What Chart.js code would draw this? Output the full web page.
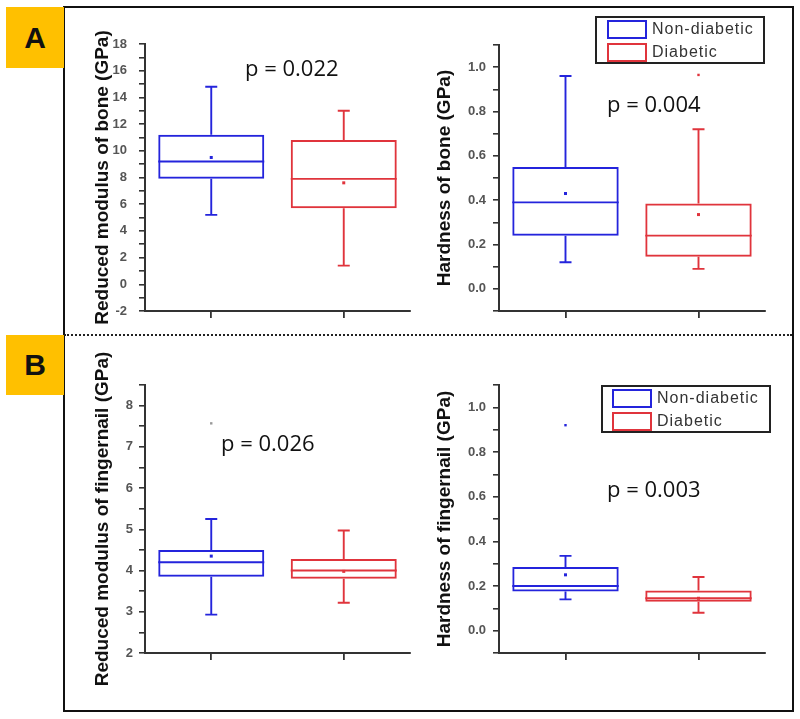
<!DOCTYPE html>
<html>
<head>
<meta charset="utf-8">
<script src="https://cdn.jsdelivr.net/npm/chart.js@4.4.1/dist/chart.umd.min.js"></script>
<style>
  body { margin:0; background:#fff; width:800px; height:719px; position:relative; overflow:hidden; font-family:'Liberation Sans', Arial, sans-serif; }
  .abs { position:absolute; }
  canvas { position:absolute; }
  .frame { left:63px; top:6px; width:731px; height:706px; border:2px solid #111; box-sizing:border-box; }
  .divider { left:64px; top:334px; width:728px; border-top:2px dotted #222; }
  .tag { width:58px; background:#ffc000; font-weight:bold; font-size:30px; color:#111; display:flex; align-items:center; justify-content:center; }
  .pval { font-family:'Open Sans', sans-serif; font-size:22px; color:#111; line-height:22px; white-space:nowrap; }
  .legend { width:170px; height:48px; border:2px solid #222; box-sizing:border-box; background:#fff; }
  .item { position:absolute; left:10px; height:20px; display:flex; align-items:center; }
  .sw { width:40px; height:19px; box-sizing:border-box; border:2px solid; margin-right:5px; }
  .lbl { font-size:16px; letter-spacing:1px; color:#333; }
</style>
</head>
<body>
<div class="abs frame"></div>
<div class="abs divider"></div>
<div class="abs tag" style="left:6px;top:7px;height:61px;">A</div>
<div class="abs tag" style="left:6px;top:335px;height:60px;">B</div>

<canvas id="boneMod" width="323" height="321" style="left:91px;top:15px;"></canvas>
<canvas id="boneHard" width="337" height="321" style="left:433px;top:15px;"></canvas>
<canvas id="nailMod" width="323" height="348" style="left:91px;top:345px;"></canvas>
<canvas id="nailHard" width="337" height="348" style="left:433px;top:345px;"></canvas>

<div class="abs pval" style="left:245px;top:56px;">p = 0.022</div>
<div class="abs pval" style="left:607px;top:92px;">p = 0.004</div>
<div class="abs pval" style="left:221px;top:431px;">p = 0.026</div>
<div class="abs pval" style="left:607px;top:477px;">p = 0.003</div>

<div class="abs legend" style="left:595px;top:16px;">
  <div class="item" style="top:1px;"><span class="sw" style="border-color:#2424dc"></span><span class="lbl">Non-diabetic</span></div>
  <div class="item" style="top:24px;"><span class="sw" style="border-color:#e0343c"></span><span class="lbl">Diabetic</span></div>
</div>
<div class="abs legend" style="left:601px;top:385px;">
  <div class="item" style="top:1px;left:9px;"><span class="sw" style="border-color:#2424dc"></span><span class="lbl">Non-diabetic</span></div>
  <div class="item" style="top:24px;left:9px;"><span class="sw" style="border-color:#e0343c"></span><span class="lbl">Diabetic</span></div>
</div>

<script>
const categories = ['Non-diabetic', 'Diabetic'];
const groupColors = ['#2424dc', '#e0343c'];

// [whisker low, Q1, median, Q3, whisker high] per group
const boneModStats = [[5.2, 7.9, 9.2, 11.2, 14.8], [1.4, 5.7, 7.9, 10.8, 13.0]];
const boneModMeans = [9.5, 7.6];
const boneModOutliers = [[], []];
const boneModTicks = [-2, 0, 2, 4, 6, 8, 10, 12, 14, 16, 18];

const boneHardStats = [[0.12, 0.24, 0.39, 0.55, 0.96], [0.09, 0.145, 0.24, 0.385, 0.72]];
const boneHardMeans = [0.43, 0.335];
const boneHardOutliers = [[], [0.965]];
const boneHardTicks = [0.0, 0.2, 0.4, 0.6, 0.8, 1.0];

const nailModStats = [[2.93, 3.85, 4.2, 4.5, 5.25], [3.22, 3.8, 4.0, 4.28, 4.97]];
const nailModMeans = [4.35, 3.98];
const nailModOutliers = [[7.57], []];
const nailModTicks = [2, 3, 4, 5, 6, 7, 8];

const nailHardStats = [[0.14, 0.175, 0.2, 0.285, 0.335], [0.08, 0.13, 0.145, 0.18, 0.24]];
const nailHardMeans = [0.25, 0.145];
const nailHardOutliers = [[0.92], []];
const nailHardTicks = [0.0, 0.2, 0.4, 0.6, 0.8, 1.0];

const FONT = "'Liberation Sans', Arial, sans-serif";

// whiskers, median, mean and extra points on top of the floating-bar boxes
const boxExtras = {
  id: 'boxExtras',
  afterDatasetsDraw(chart, args, opts) {
    const ctx = chart.ctx;
    const y = chart.scales.y;
    const bars = chart.getDatasetMeta(0).data;
    const py = v => y.getPixelForValue(v);
    ctx.save();
    ctx.lineWidth = 1.9;
    opts.stats.forEach((s, i) => {
      const [lo, q1, med, q3, hi] = s;
      const cx = bars[i].x;
      const half = bars[i].width / 2;
      ctx.strokeStyle = groupColors[i];
      ctx.fillStyle = groupColors[i];
      ctx.beginPath();
      ctx.moveTo(cx - half, py(med)); ctx.lineTo(cx + half, py(med));
      ctx.moveTo(cx, py(q3)); ctx.lineTo(cx, py(hi));
      ctx.moveTo(cx, py(q1)); ctx.lineTo(cx, py(lo));
      ctx.moveTo(cx - 6, py(hi)); ctx.lineTo(cx + 6, py(hi));
      ctx.moveTo(cx - 6, py(lo)); ctx.lineTo(cx + 6, py(lo));
      ctx.stroke();
      ctx.fillRect(cx - 1.5, py(opts.means[i]) - 1.5, 3, 3);
      opts.outliers[i].forEach(v => {
        ctx.fillStyle = opts.outlierColor || groupColors[i];
        ctx.fillRect(cx - 1.2, py(v) - 1.2, 2.4, 2.4);
      });
    });
    ctx.restore();
  }
};

function makeBoxChart(id, c) {
  new Chart(document.getElementById(id), {
    type: 'bar',
    data: {
      labels: categories,
      datasets: [{
        data: c.stats.map(s => [s[1], s[3]]),
        backgroundColor: 'rgba(0,0,0,0)',
        borderColor: groupColors,
        borderWidth: 2,
        borderSkipped: false,
        barPercentage: 0.8,
        categoryPercentage: 1
      }]
    },
    options: {
      responsive: false,
      animation: false,
      events: [],
      layout: { padding: { left: 0, top: c.padTop, right: c.padRight, bottom: 0 } },
      scales: {
        x: {
          type: 'category',
          offset: true,
          grid: { display: true, drawOnChartArea: false, drawTicks: true, tickLength: 7, offset: false, color: '#333', lineWidth: 1.8 },
          border: { display: true, color: '#333', width: 2 },
          ticks: { display: false },
          afterFit: s => { s.height = c.xHeight; }
        },
        y: {
          min: c.min,
          max: c.max,
          grid: { display: true, drawOnChartArea: false, drawTicks: true, tickLength: 6, color: '#333', lineWidth: 1.6 },
          border: { display: true, color: '#333', width: 2 },
          ticks: {
            stepSize: c.step,
            autoSkip: false,
            padding: c.tickPad,
            color: '#555',
            font: { family: FONT, size: 13, weight: 'bold' },
            callback: v => {
              const t = c.ticks.find(t => Math.abs(t - v) < 1e-6);
              return t === undefined ? '' : t.toFixed(c.decimals);
            }
          },
          title: {
            display: true,
            text: c.title,
            color: '#111',
            padding: { top: 0, bottom: 0 },
            font: { family: FONT, size: 19, weight: 'bold' }
          },
          afterFit: s => { s.width = c.yWidth; }
        }
      },
      plugins: {
        legend: { display: false },
        tooltip: { enabled: false },
        boxExtras: { stats: c.stats, means: c.means, outliers: c.outliers, outlierColor: c.outlierColor }
      }
    },
    plugins: [boxExtras]
  });
}

makeBoxChart('boneMod', {
  stats: boneModStats, means: boneModMeans, outliers: boneModOutliers,
  min: -2, max: 18, step: 1, ticks: boneModTicks, decimals: 0,
  title: 'Reduced modulus of bone (GPa)',
  yWidth: 54, xHeight: 25, padTop: 29, padRight: 4, tickPad: 12
});
makeBoxChart('boneHard', {
  stats: boneHardStats, means: boneHardMeans, outliers: boneHardOutliers,
  min: -0.1, max: 1.1, step: 0.1, ticks: boneHardTicks, decimals: 1,
  title: 'Hardness of bone (GPa)',
  yWidth: 66, xHeight: 25, padTop: 30, padRight: 5, tickPad: 7
});
makeBoxChart('nailMod', {
  stats: nailModStats, means: nailModMeans, outliers: nailModOutliers, outlierColor: '#999',
  min: 2, max: 8.5, step: 0.5, ticks: nailModTicks, decimals: 0,
  title: 'Reduced modulus of fingernail (GPa)',
  yWidth: 54, xHeight: 40, padTop: 40, padRight: 4, tickPad: 6
});
makeBoxChart('nailHard', {
  stats: nailHardStats, means: nailHardMeans, outliers: nailHardOutliers,
  min: -0.1, max: 1.1, step: 0.1, ticks: nailHardTicks, decimals: 1,
  title: 'Hardness of fingernail (GPa)',
  yWidth: 66, xHeight: 40, padTop: 40, padRight: 5, tickPad: 7
});
</script>
</body>
</html>
